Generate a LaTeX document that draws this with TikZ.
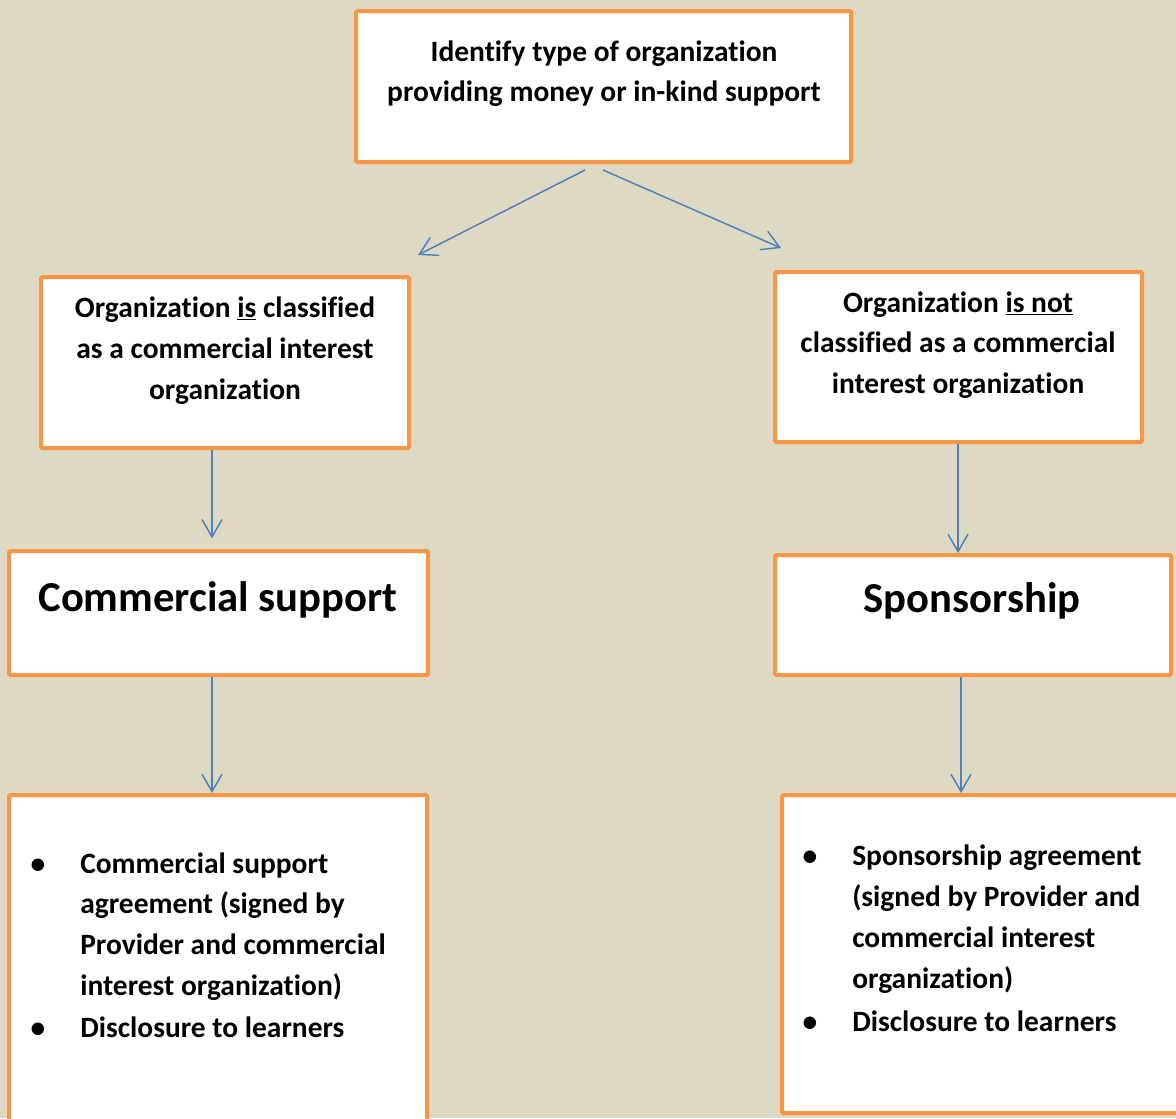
\documentclass[tikz,border=0pt]{standalone}
\usepackage{fontspec}
\setmainfont{Carlito}[Ligatures=NoCommon, RawFeature={-liga;-clig;-calt;-dlig}]
\usetikzlibrary{arrows.meta,fit}
\definecolor{tanbg}{HTML}{DDD9C3}
\definecolor{boxorange}{HTML}{F79646}
\definecolor{arrowblue}{HTML}{4F81BD}
\tikzset{
  box/.style={draw=boxorange, line width=3pt, fill=white, rounded corners=1pt, inner sep=0pt},
  txt/.style={anchor=base, inner sep=0pt, font=\bfseries\fontsize{22.1}{26}\selectfont},
  bigtxt/.style={anchor=base, inner sep=0pt, font=\bfseries\fontsize{32}{38}\selectfont},
  itemtxt/.style={txt, anchor=base west},
  flow/.style={draw=arrowblue, line width=1.1pt, -{Straight Barb[length=13pt,width=15pt,line width=1.1pt]}}
}
\begin{document}
\begin{tikzpicture}[x=0.75pt,y=-0.75pt]
\clip (0,0) rectangle (1176,1118);
\fill[tanbg] (0,0) rectangle (1176,1118);
% boxes
\node[box, fit={(356,11) (851,162)}] (top) {};
\node[box, fit={(41,277) (409,448)}] (isbox) {};
\node[box, fit={(775,272) (1142,442)}] (notbox) {};
\node[box, fit={(9,551) (428,675)}] (commbox) {};
\node[box, fit={(775,555) (1171,675)}] (sponsbox) {};
\node[box, fit={(9,795) (427,1135)}] (commlist) {};
\node[box, fit={(782,795) (1195,1113)}] (sponslist) {};
% texts
\node[txt] (top1) at (604,61) {Identify type of organization};
\node[txt] (top2) at (604,101) {providing money or in-kind support};
\node[txt] (is1) at (225,317) {Organization \underline{is} classified};
\node[txt] (is2) at (225,358) {as a commercial interest};
\node[txt] (is3) at (225,399) {organization};
\node[txt] (not1) at (958,312) {Organization \underline{is not}};
\node[txt] (not2) at (958,352) {classified as a commercial};
\node[txt] (not3) at (958,393) {interest organization};
\node[bigtxt] (comm) at (218,611) {Commercial support};
\node[bigtxt] (spons) at (972,612) {Sponsorship};
\node[txt] (cb1) at (38,873) {•};
\node[itemtxt] (ci1) at (80,873) {Commercial support};
\node[itemtxt] (ci2) at (80,913) {agreement (signed by};
\node[itemtxt] (ci3) at (80,954) {Provider and commercial};
\node[itemtxt] (ci4) at (80,995) {interest organization)};
\node[txt] (cb2) at (38,1037) {•};
\node[itemtxt] (ci5) at (80,1037) {Disclosure to learners};
\node[txt] (sb1) at (810,865) {•};
\node[itemtxt] (si1) at (852,865) {Sponsorship agreement};
\node[itemtxt] (si2) at (852,906) {(signed by Provider and};
\node[itemtxt] (si3) at (852,947) {commercial interest};
\node[itemtxt] (si4) at (852,988) {organization)};
\node[txt] (sb2) at (810,1031) {•};
\node[itemtxt] (si5) at (852,1031) {Disclosure to learners};
% arrows
\coordinate (splitl) at (585,170);
\coordinate (splitr) at (603,170);
\coordinate (tipl) at (418,255);
\coordinate (tipr) at (781,248);
\draw[flow] (splitl) -- (tipl);
\draw[flow] (splitr) -- (tipr);
\draw[flow] (isbox.south -| 212,0) -- ([yshift=8]commbox.north -| 212,0);
\draw[flow] (notbox.south -| 958,0) -- (sponsbox.north -| 958,0);
\draw[flow] (commbox.south -| 212,0) -- (commlist.north -| 212,0);
\draw[flow] (sponsbox.south -| 961,0) -- (sponslist.north -| 961,0);
\end{tikzpicture}
\end{document}
